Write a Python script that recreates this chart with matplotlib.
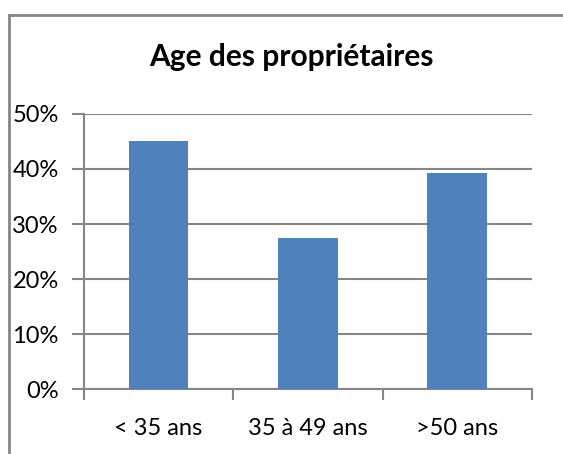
import numpy as np
import matplotlib.pyplot as plt
from matplotlib.lines import Line2D
from matplotlib.ticker import PercentFormatter

categories = ['< 35 ans', '35 à 49 ans', '>50 ans']
values = [45.1, 27.4, 39.2]
yticks = [0, 10, 20, 30, 40, 50]

plt.rcParams['font.family'] = ['Lato', 'DejaVu Sans']

fig = plt.figure(figsize=(5.63, 4.54), dpi=100)
ax = fig.add_axes([0.149, 0.143, 0.796, 0.606])

x = np.arange(len(categories))
ax.bar(x, values, width=0.4, color='#4F81BD', zorder=3)

ax.set_xlim(-0.5, len(categories) - 0.5)
ax.set_ylim(0, 50)
ax.set_yticks(yticks)
ax.yaxis.set_major_formatter(PercentFormatter(decimals=0))
ax.set_xticks(x)
ax.set_xticklabels(categories)
# category boundary ticks, Excel style
ax.set_xticks(np.arange(len(categories) + 1) - 0.5, minor=True)
ax.tick_params(axis='x', which='major', length=0, pad=21, labelsize=17)
ax.tick_params(axis='x', which='minor', length=8, width=1.5, color='#868686')
ax.tick_params(axis='y', length=9, width=1.5, color='#868686', labelsize=17, pad=9)

ax.grid(axis='y', color='#868686', linewidth=1.5, zorder=0)
for s in ['top', 'right']:
    ax.spines[s].set_visible(False)
for s in ['left', 'bottom']:
    ax.spines[s].set_color('#868686')
    ax.spines[s].set_linewidth(1.5)

fig.text(0.517, 0.874, 'Age des propriétaires', ha='center', va='center',
         fontsize=21.5, fontweight='bold')

# chart frame (top and left edges only visible)
fig.add_artist(Line2D([9 / 563, 9 / 563], [0, 1 - 15 / 454], color='#868686',
                      linewidth=2, transform=fig.transFigure))
fig.add_artist(Line2D([9 / 563, 1], [1 - 15 / 454, 1 - 15 / 454], color='#868686',
                      linewidth=2, transform=fig.transFigure))

fig.savefig('out.png', dpi=100)
